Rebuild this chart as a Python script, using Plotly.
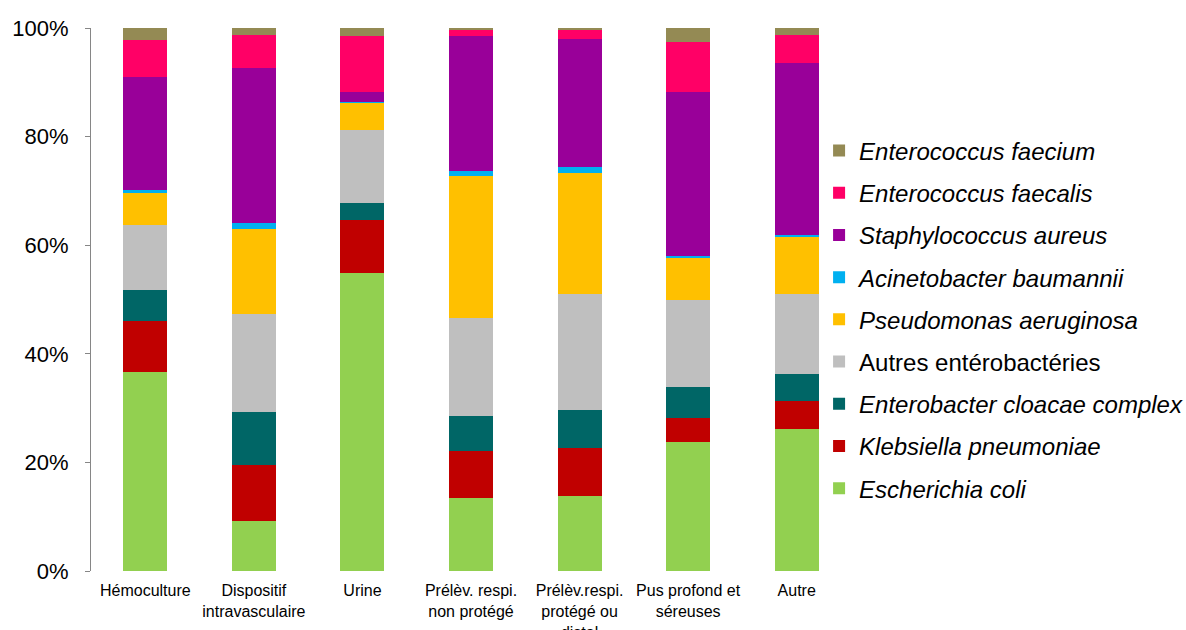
import plotly.graph_objects as go

# Sample types (x categories)
categories = [
    "Hémoculture",
    "Dispositif<br>intravasculaire",
    "Urine",
    "Prélèv. respi.<br>non protégé",
    "Prélèv.respi.<br>protégé ou<br>distal",
    "Pus profond et<br>séreuses",
    "Autre",
]

# Share of each micro-organism per sample type (%)
escherichia_coli = [36.7, 9.15, 54.9, 13.4, 13.9, 23.8, 26.1]
klebsiella_pneumoniae = [9.3, 10.45, 9.7, 8.7, 8.8, 4.4, 5.2]
enterobacter_cloacae = [5.7, 9.6, 3.2, 6.4, 6.9, 5.6, 5.0]
autres_enterobacteries = [12.0, 18.1, 13.4, 18.1, 21.4, 16.2, 14.8]
pseudomonas_aeruginosa = [6.0, 15.7, 5.0, 26.2, 22.3, 7.8, 10.4]
acinetobacter_baumannii = [0.5, 1.1, 0.2, 0.9, 1.1, 0.2, 0.4]
staphylococcus_aureus = [20.8, 28.5, 1.9, 24.8, 23.5, 30.2, 31.6]
enterococcus_faecalis = [6.85, 6.1, 10.3, 1.2, 1.8, 9.2, 5.2]
enterococcus_faecium = [2.15, 1.3, 1.4, 0.3, 0.3, 2.6, 1.3]

# Y axis ticks
y_tick_values = [0, 20, 40, 60, 80, 100]
y_tick_labels = ["0%", "20%", "40%", "60%", "80%", "100%"]

series = [
    ("<i>Escherichia coli</i>", escherichia_coli, "#92D050"),
    ("<i>Klebsiella pneumoniae</i>", klebsiella_pneumoniae, "#C00000"),
    ("<i>Enterobacter cloacae complex</i>", enterobacter_cloacae, "#006666"),
    ("Autres entérobactéries", autres_enterobacteries, "#BFBFBF"),
    ("<i>Pseudomonas aeruginosa</i>", pseudomonas_aeruginosa, "#FFC000"),
    ("<i>Acinetobacter baumannii</i>", acinetobacter_baumannii, "#00B0F0"),
    ("<i>Staphylococcus aureus</i>", staphylococcus_aureus, "#990099"),
    ("<i>Enterococcus faecalis</i>", enterococcus_faecalis, "#FF0066"),
    ("<i>Enterococcus faecium</i>", enterococcus_faecium, "#948A54"),
]

fig = go.Figure()
n = len(series)
for i, (name, values, color) in enumerate(series):
    fig.add_trace(go.Bar(
        x=categories,
        y=values,
        name=name,
        legendgroup=f"g{i}",
        legendrank=n - i,  # top of the stack listed first
        marker=dict(color=color, line=dict(width=0)),
        width=0.405,
    ))

fig.update_layout(
    width=1186,
    height=630,
    barmode="stack",
    plot_bgcolor="white",
    paper_bgcolor="white",
    font=dict(family="Liberation Sans, Arial, sans-serif", color="#000000"),
    margin=dict(l=91, r=335, t=28, b=59, autoexpand=False),
    showlegend=True,
    legend=dict(
        x=0.958,
        xanchor="left",
        y=0.815,
        yanchor="top",
        traceorder="grouped",
        tracegroupgap=8,
        font=dict(size=24, color="#000000"),
        bgcolor="rgba(0,0,0,0)",
    ),
    xaxis=dict(
        showline=False,
        showgrid=False,
        ticks="",
        automargin=False,
        ticklabelstandoff=8,
        tickfont=dict(size=16, color="#000000"),
        tickangle=0,
    ),
    yaxis=dict(
        range=[0, 100],
        tickvals=y_tick_values,
        ticktext=y_tick_labels,
        automargin=False,
        showgrid=False,
        zeroline=False,
        showline=True,
        linecolor="#868686",
        linewidth=1,
        ticks="outside",
        ticklen=5,
        tickcolor="#868686",
        ticklabelstandoff=12,
        tickfont=dict(size=22, color="#000000"),
    ),
)

fig.write_html("out.html")
